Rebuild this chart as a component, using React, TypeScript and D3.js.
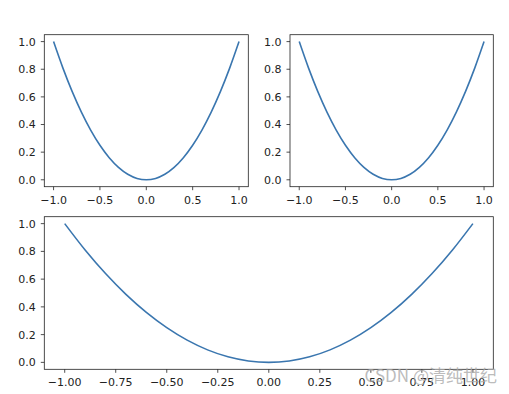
import React from 'react';
import {scaleLinear, line, curveCatmullRom} from 'd3';

const xs = [-1.0, -0.9, -0.8, -0.7, -0.6, -0.5, -0.4, -0.3, -0.2, -0.1, 0.0,
    0.1, 0.2, 0.3, 0.4, 0.5, 0.6, 0.7, 0.8, 0.9, 1.0];
const ys = [1.0, 0.81, 0.64, 0.49, 0.36, 0.25, 0.16, 0.09, 0.04, 0.01, 0.0,
    0.01, 0.04, 0.09, 0.16, 0.25, 0.36, 0.49, 0.64, 0.81, 1.0];

const yTicks = [0, 0.2, 0.4, 0.6, 0.8, 1.0];
const smallXTicks = [-1, -0.5, 0, 0.5, 1];
const wideXTicks = [-1, -0.75, -0.5, -0.25, 0, 0.25, 0.5, 0.75, 1];

const W = 509;
const H = 394;
const FONT = 'DejaVu Sans, sans-serif';

const fmt = (v: number, digits: number) => {
    const s = Math.abs(v).toFixed(digits);
    return v < -1e-9 ? '\u2212' + s : s;
};

type PanelProps = {
    left: number, top: number, right: number, bottom: number,
    xTicks: number[], digits: number
};

const Panel = ({left, top, right, bottom, xTicks, digits}: PanelProps) => {
    const x = scaleLinear().domain([-1.1, 1.1]).range([left, right]);
    const y = scaleLinear().domain([-0.05, 1.05]).range([bottom, top]);
    const path = line<number>()
        .x((d, i) => x(xs[i]))
        .y(d => y(d))
        .curve(curveCatmullRom)(ys);

    return (
        <g>
            <path d={path || ''} fill="none" stroke="#3a76af" strokeWidth={1.6}/>
            <rect x={left} y={top} width={right - left} height={bottom - top}
                  fill="none" stroke="#222" strokeWidth={0.8}/>
            {yTicks.map(t => (
                <g key={'y' + t}>
                    <line x1={left - 3.5} x2={left} y1={y(t)} y2={y(t)} stroke="#222" strokeWidth={0.8}/>
                    <text x={left - 8.5} y={y(t)} dy="0.36em" textAnchor="end"
                          fontFamily={FONT} fontSize={11} fill="#222">{fmt(t, 1)}</text>
                </g>
            ))}
            {xTicks.map(t => (
                <g key={'x' + t}>
                    <line x1={x(t)} x2={x(t)} y1={bottom} y2={bottom + 3.5} stroke="#222" strokeWidth={0.8}/>
                    <text x={x(t)} y={bottom + 17} textAnchor="middle"
                          fontFamily={FONT} fontSize={11} fill="#222">{fmt(t, digits)}</text>
                </g>
            ))}
        </g>
    );
};

export default function App() {
    return (
        <svg width={W} height={H} style={{position: 'absolute', left: 0, top: 0}}>
            <rect width={W} height={H} fill="#fff"/>
            <Panel left={44.3} top={34.7} right={248.3} bottom={186.7} xTicks={smallXTicks} digits={1}/>
            <Panel left={290} top={34.7} right={493.3} bottom={186.7} xTicks={smallXTicks} digits={1}/>
            <Panel left={44.3} top={216.7} right={493.3} bottom={369.3} xTicks={wideXTicks} digits={2}/>
            <text x={497} y={382} textAnchor="end" fontFamily="Noto Sans CJK SC, sans-serif"
                  fontSize={17} fill="#aaa" fillOpacity={0.8}>CSDN @清纯世纪</text>
        </svg>
    );
}
